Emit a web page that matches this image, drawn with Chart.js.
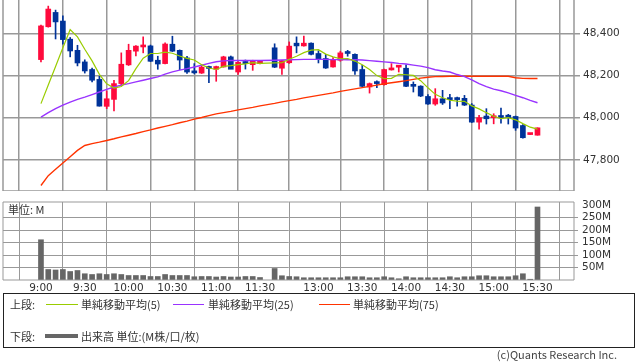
<!DOCTYPE html>
<html>
<head>
<meta charset="utf-8">
<script src="https://cdn.jsdelivr.net/npm/chart.js@4.4.1/dist/chart.umd.min.js"></script>
<style>
  body { margin: 0; width: 638px; height: 362px; background: #fff; position: relative; overflow: hidden;
         font-family: 'Noto Sans CJK JP', sans-serif; color: #333; }
  #main { position: absolute; left: 0; top: 0; }
  #vol { position: absolute; left: 0; top: 196px; }
  #unit { position: absolute; left: 8px; top: 202px; font-size: 11px; line-height: 14px; }
  #legend { position: absolute; left: 3px; top: 293px; width: 630px; height: 53px; border: 1px solid #222; font-size: 11px; }
  #legend span { position: absolute; line-height: 14px; white-space: nowrap; }
  #legend .ln { height: 1px; }
  #copy { position: absolute; right: 21px; top: 347px; font-size: 11px; line-height: 14px; color: #444; }
</style>
</head>
<body>
<canvas id="main" width="638" height="191"></canvas>
<canvas id="vol" width="638" height="99"></canvas>
<div id="unit">単位: M</div>
<div id="legend">
  <span style="left:6px; top:3px">上段:</span>
  <span class="ln" style="left:42px; top:10px; width:32px; background:#99cc00"></span>
  <span style="left:77px; top:3px">単純移動平均(5)</span>
  <span class="ln" style="left:169px; top:10px; width:31px; background:#9933ff"></span>
  <span style="left:204px; top:3px">単純移動平均(25)</span>
  <span class="ln" style="left:315px; top:10px; width:31px; background:#ff3300"></span>
  <span style="left:349px; top:3px">単純移動平均(75)</span>
  <span style="left:6px; top:35px">下段:</span>
  <span style="left:41px; top:40px; width:33px; height:4px; background:#666"></span>
  <span style="left:77px; top:35px">出来高 単位:(M株/口/枚)</span>
</div>
<div id="copy">(c)Quants Research Inc.</div>
<script>
// 5-minute candles (morning 9:00-11:30, afternoon 12:30-15:30)
const times = ['9:00','9:05','9:10','9:15','9:20','9:25','9:30','9:35','9:40','9:45','9:50','9:55',
  '10:00','10:05','10:10','10:15','10:20','10:25','10:30','10:35','10:40','10:45','10:50','10:55',
  '11:00','11:05','11:10','11:15','11:20','11:25','11:30',
  '12:30','12:35','12:40','12:45','12:50','12:55',
  '13:00','13:05','13:10','13:15','13:20','13:25','13:30','13:35','13:40','13:45','13:50','13:55',
  '14:00','14:05','14:10','14:15','14:20','14:25','14:30','14:35','14:40','14:45','14:50','14:55',
  '15:00','15:05','15:10','15:15','15:20','15:25','15:30'];

const open = [48276,48432,48500,48459,48373,48320,48265,48229,48182,48054,48087,48162,
  48251,48316,48336,48341,48273,48257,48349,48320,48284,48222,48212,48243,
  48230,48241,48289,48217,48267,48252,48257,
  48332,48235,48261,48354,48341,48354,
  48305,48281,48241,48273,48308,48301,48229,48146,48165,48157,48227,48240,
  48235,48152,48150,48101,48065,48090,48089,48089,48092,48060,47979,48008,
  48000,48005,48012,48006,47963,47920,47917];
const high = [48440,48530,48511,48484,48381,48344,48275,48236,48197,48127,48178,48308,
  48349,48342,48384,48345,48292,48356,48387,48322,48292,48257,48244,48245,
  48245,48292,48293,48266,48274,48273,48270,
  48351,48273,48360,48384,48388,48356,
  48318,48301,48286,48316,48320,48303,48249,48165,48175,48231,48257,48246,
  48251,48170,48152,48110,48138,48130,48111,48098,48106,48067,48011,48043,
  48019,48046,48016,48008,47967,47920,47952];
const low = [48265,48430,48374,48349,48289,48246,48212,48170,48055,48043,48032,48154,
  48248,48293,48308,48266,48230,48256,48314,48228,48210,48208,48210,48167,
  48173,48240,48235,48206,48231,48225,48255,
  48238,48206,48258,48308,48340,48298,
  48260,48234,48240,48268,48292,48206,48147,48117,48143,48155,48226,48217,
  48147,48122,48100,48063,48059,48063,48043,48055,48058,47977,47946,47970,
  47971,47974,47970,47940,47903,47920,47917];
const close = [48436,48516,48455,48371,48317,48260,48222,48178,48055,48090,48162,48254,
  48320,48340,48341,48268,48255,48350,48316,48274,48217,48213,48240,48234,
  48243,48289,48230,48263,48257,48271,48268,
  48240,48271,48340,48341,48354,48301,
  48278,48236,48276,48308,48305,48222,48149,48162,48162,48229,48235,48243,
  48149,48149,48103,48065,48090,48070,48086,48086,48060,47979,48000,47995,
  48003,48001,48000,47951,47905,47920,47952];

// volume, millions of shares
const volume = [161,42,40,42,34,38,25,22,25,22,25,22,
  18,18,18,14,14,22,18,18,18,13,14,14,
  12,14,12,12,14,14,10,
  46,17,14,13,9,9,
  9,9,9,9,13,13,13,9,9,13,9,5,
  13,9,9,9,9,9,13,9,13,13,17,17,
  13,13,13,17,25,3,292];

// moving averages
const sma5 = [48067,48155,48243,48332,48419,48384,48325,48270,48206,48161,48141,48148,
  48176,48233,48283,48305,48305,48311,48306,48293,48282,48274,48252,48236,
  48229,48244,48247,48252,48256,48262,48258,
  48260,48261,48278,48292,48309,48321,
  48323,48302,48289,48280,48281,48269,48252,48229,48200,48185,48187,48206,
  48204,48201,48176,48142,48111,48095,48083,48079,48078,48056,48042,48024,
  48007,47996,48000,47990,47972,47955,47946];
const sma25 = [48003,48024,48043,48060,48074,48087,48098,48110,48122,48135,48146,48155,
  48162,48170,48178,48186,48194,48207,48218,48226,48233,48241,48249,48258,
  48266,48270,48272,48272,48272,48272,48272,
  48273,48274,48275,48276,48277,48277,
  48277,48277,48276,48276,48275,48275,48274,48271,48268,48265,48262,48258,
  48255,48250,48245,48238,48228,48222,48217,48205,48195,48180,48162,48148,
  48136,48128,48118,48106,48095,48082,48071];
const sma75 = [47678,47725,47755,47785,47815,47845,47868,47877,47884,47892,47900,47909,
  47917,47925,47934,47942,47951,47959,47967,47976,47984,47993,48001,48010,
  48018,48024,48030,48037,48043,48049,48056,
  48068,48075,48081,48087,48094,48100,
  48106,48112,48118,48125,48131,48137,48143,48149,48155,48161,48166,48171,
  48176,48182,48188,48192,48195,48196,48197,48197,48197,48197,48197,48197,
  48197,48197,48197,48190,48187,48186,48186];

const xTicks = ['9:00','9:30','10:00','10:30','11:00','11:30','13:00','13:30','14:00','14:30','15:00','15:30'];
const priceTicks = [47800, 48000, 48200, 48400];
const volumeTicks = [50, 100, 150, 200, 250, 300];

const UP = '#ff0a3c';
const DOWN = '#003399';
const GRID = '#999999';

// slot on the time axis: lunch break squeezed to one empty slot
function slotOf(t) {
  const [h, m] = t.split(':').map(Number);
  const min = h * 60 + m;
  return min <= 690 ? (min - 540) / 5 : (min - 750) / 5 + 32;
}

const xs = times.map(slotOf);
const colors = times.map((t, i) => close[i] >= open[i] ? UP : DOWN);

Chart.defaults.font.family = "'DejaVu Sans', sans-serif";
Chart.defaults.font.size = 10.5;
Chart.defaults.color = '#333';

function fixAxis(size) {
  return (s) => {
    if (s.isHorizontal()) s.height = size; else s.width = size;
    s.paddingTop = 0; s.paddingBottom = 0; s.paddingLeft = 0; s.paddingRight = 0;
  };
}

// draws the plot frame
const frame = {
  id: 'frame',
  afterDraw(chart, args, opts) {
    const { ctx, chartArea: a } = chart;
    ctx.save();
    ctx.strokeStyle = opts.color;
    ctx.lineWidth = opts.width;
    ctx.beginPath();
    if (opts.top) { ctx.moveTo(a.left, a.top); ctx.lineTo(a.right, a.top); }
    ctx.moveTo(a.left, a.top); ctx.lineTo(a.left, a.bottom);
    ctx.lineTo(a.right, a.bottom); ctx.lineTo(a.right, a.top);
    ctx.stroke();
    ctx.restore();
  }
};

const xScale = (showLabels, lineWidth) => ({
  type: 'linear',
  min: -5.2,
  max: 73,
  offset: false,
  afterBuildTicks: (s) => { s.ticks = xTicks.map(t => ({ value: slotOf(t) })); },
  afterFit: fixAxis(showLabels ? 15 : 0),
  ticks: { display: showLabels, autoSkip: false, maxRotation: 0, padding: 2,
           callback: (v, i) => xTicks[i] },
  grid: { color: GRID, lineWidth: lineWidth, drawTicks: false },
  border: { display: false }
});

const pts = (arr) => arr.map((v, i) => ({ x: xs[i], y: v }));

new Chart(document.getElementById('main'), {
  type: 'bar',
  data: {
    datasets: [
      { type: 'line', data: pts(sma5), borderColor: '#99cc00', borderWidth: 1.2, pointRadius: 0, order: 0 },
      { type: 'line', data: pts(sma25), borderColor: '#9933ff', borderWidth: 1.4, pointRadius: 0, order: 0 },
      { type: 'line', data: pts(sma75), borderColor: '#ff3300', borderWidth: 1.4, pointRadius: 0, order: 0 },
      { data: times.map((t, i) => ({ x: xs[i], y: [open[i], close[i]] })), backgroundColor: colors,
        barThickness: 5, minBarLength: 2, grouped: false, order: 1 },
      { data: times.map((t, i) => ({ x: xs[i], y: [low[i], high[i]] })), backgroundColor: colors,
        barThickness: 1, minBarLength: 1, grouped: false, order: 2 }
    ]
  },
  options: {
    responsive: false,
    animation: false,
    layout: { padding: { left: 3, top: 0, right: 0, bottom: 0 } },
    plugins: { legend: { display: false }, tooltip: { enabled: false },
               frame: { color: GRID, width: 1.5, top: false } },
    scales: {
      x: xScale(false, 1.5),
      y: {
        position: 'right',
        min: 47652,
        max: 48559,
        afterBuildTicks: (s) => { s.ticks = priceTicks.map(v => ({ value: v })); },
        afterFit: fixAxis(64),
        ticks: { padding: 3, callback: (v) => v.toLocaleString('en-US') },
        grid: { color: GRID, lineWidth: 1.5, tickLength: 6 },
        border: { display: false }
      }
    }
  },
  plugins: [frame]
});

new Chart(document.getElementById('vol'), {
  type: 'bar',
  data: {
    datasets: [
      { data: times.map((t, i) => ({ x: xs[i], y: volume[i] })), backgroundColor: '#666666',
        barThickness: 5, grouped: false }
    ]
  },
  options: {
    responsive: false,
    animation: false,
    layout: { padding: { left: 3, top: 6, right: 0, bottom: 0 } },
    plugins: { legend: { display: false }, tooltip: { enabled: false },
               frame: { color: GRID, width: 1, top: true } },
    scales: {
      x: xScale(true, 1),
      y: {
        position: 'right',
        min: 0,
        max: 312,
        afterBuildTicks: (s) => { s.ticks = volumeTicks.map(v => ({ value: v })); },
        afterFit: fixAxis(64),
        ticks: { padding: 4, callback: (v) => v + 'M' },
        // the 300M line sits under the top frame and is not drawn
        grid: { color: (c) => c.tick && c.tick.value === 300 ? 'rgba(0,0,0,0)' : GRID, lineWidth: 1, tickLength: 4 },
        border: { display: false }
      }
    }
  },
  plugins: [frame]
});
</script>
</body>
</html>
